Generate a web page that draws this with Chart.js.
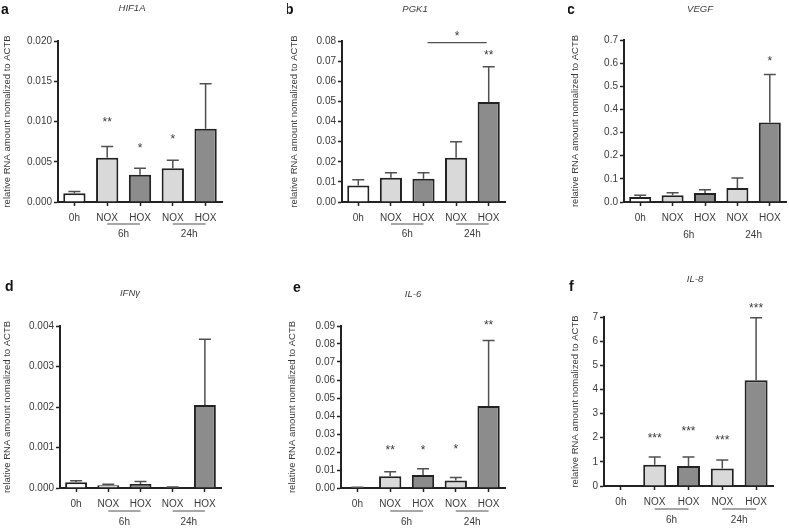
<!DOCTYPE html>
<html>
<head>
<meta charset="utf-8">
<script src="https://cdn.jsdelivr.net/npm/chart.js@4.4.0/dist/chart.umd.min.js"></script>
<style>
  html, body { margin: 0; padding: 0; background: #ffffff; }
  body { width: 789px; height: 528px; position: relative; overflow: hidden; }
  canvas { position: absolute; }
</style>
</head>
<body>
<canvas id="hif1a"></canvas>
<canvas id="pgk1"></canvas>
<canvas id="vegf"></canvas>
<canvas id="ifng"></canvas>
<canvas id="il6"></canvas>
<canvas id="il8"></canvas>
<script>
// categories shared by every panel
const categories = ['0h', 'NOX', 'HOX', 'NOX', 'HOX'];
const groupLabels = ['6h', '24h'];
const yTitle = 'relative RNA amount nomalized to ACTB';

// a - HIF1A
const hif1aMean = [0.0011, 0.0055, 0.0034, 0.0042, 0.0091];
const hif1aSem = [0.0002, 0.0014, 0.0008, 0.0010, 0.0056];
const hif1aStars = ['', '**', '*', '*', ''];
const hif1aStarAt = [null, 0.0102, 0.0070, 0.0081, null];
const hif1aTicks = [0, 0.005, 0.010, 0.015, 0.020];

// b - PGK1
const pgk1Mean = [0.0082, 0.0120, 0.0115, 0.0220, 0.0497];
const pgk1Sem = [0.0028, 0.0025, 0.0030, 0.0080, 0.0175];
const pgk1Stars = ['', '', '', '', '**'];
const pgk1StarAt = [null, null, null, null, 0.0742];
const pgk1Ticks = [0, 0.01, 0.02, 0.03, 0.04, 0.05, 0.06, 0.07, 0.08];

// c - VEGF
const vegfMean = [0.022, 0.029, 0.039, 0.060, 0.343];
const vegfSem = [0.007, 0.011, 0.014, 0.044, 0.208];
const vegfStars = ['', '', '', '', '*'];
const vegfStarAt = [null, null, null, null, 0.62];
const vegfTicks = [0, 0.1, 0.2, 0.3, 0.4, 0.5, 0.6, 0.7];

// d - IFN gamma
const ifngMean = [0.00014, 0.00007, 0.00010, 0.00002, 0.00205];
const ifngSem = [0.00004, 0.00002, 0.00006, 0.000005, 0.00162];
const ifngStars = ['', '', '', '', ''];
const ifngStarAt = [null, null, null, null, null];
const ifngTicks = [0, 0.001, 0.002, 0.003, 0.004];

// e - IL-6
const il6Mean = [0.0003, 0.0065, 0.0072, 0.0041, 0.0455];
const il6Sem = [0.0001, 0.0025, 0.0035, 0.0018, 0.0364];
const il6Stars = ['', '**', '*', '*', '**'];
const il6StarAt = [null, 0.0220, 0.0225, 0.0230, 0.0918];
const il6Ticks = [0, 0.01, 0.02, 0.03, 0.04, 0.05, 0.06, 0.07, 0.08, 0.09];

// f - IL-8
const il8Mean = [0, 0.88, 0.83, 0.73, 4.38];
const il8Sem = [0, 0.32, 0.37, 0.35, 2.59];
const il8Stars = ['', '***', '***', '***', '***'];
const il8StarAt = [null, 2.07, 2.37, 2.00, 7.45];
const il8Ticks = [0, 1, 2, 3, 4, 5, 6, 7];

const INK = '#222222';
const TEXT = '#3a3a3a';
const FONT = "'Liberation Sans', Arial, sans-serif";
const barFills = ['#ffffff', '#d9d9d9', '#8c8c8c', '#d9d9d9', '#8c8c8c'];
const X_AXIS_H = 22;

// draws letter, gene name, error bars, stars, brackets, time groups
function decorations(p) {
  return {
    id: 'decorations',
    afterDatasetsDraw(chart) {
      const ctx = chart.ctx;
      const xs = chart.scales.x;
      const ys = chart.scales.y;
      const bars = chart.getDatasetMeta(0).data;
      ctx.save();

      ctx.strokeStyle = '#505050';
      ctx.lineWidth = 1.5;
      bars.forEach((bar, i) => {
        if (!(p.sem[i] > 0)) return;
        const top = ys.getPixelForValue(p.mean[i] + p.sem[i]);
        ctx.beginPath();
        ctx.moveTo(bar.x, bar.y);
        ctx.lineTo(bar.x, top);
        ctx.moveTo(bar.x - 6, top);
        ctx.lineTo(bar.x + 6, top);
        ctx.stroke();
      });

      ctx.fillStyle = TEXT;
      ctx.textAlign = 'center';
      ctx.textBaseline = 'alphabetic';
      ctx.font = '12px ' + FONT;
      bars.forEach((bar, i) => {
        if (!p.stars[i]) return;
        ctx.fillText(p.stars[i], bar.x, ys.getPixelForValue(p.starAt[i]) + 6);
      });

      if (p.bracket) {
        const yb = ys.getPixelForValue(p.bracket.at);
        const x1 = xs.getPixelForValue(p.bracket.from) + 4;
        const x2 = xs.getPixelForValue(p.bracket.to) - 2;
        ctx.strokeStyle = '#505050';
        ctx.lineWidth = 1.2;
        ctx.beginPath();
        ctx.moveTo(x1, yb);
        ctx.lineTo(x2, yb);
        ctx.stroke();
        ctx.fillText(p.bracket.label, (x1 + x2) / 2, ys.getPixelForValue(p.bracket.labelAt) + 6);
      }

      const bottom = chart.chartArea.bottom;
      ctx.font = '10px ' + FONT;
      ctx.textBaseline = 'middle';
      [[1, 2], [3, 4]].forEach((pair, g) => {
        const x1 = xs.getPixelForValue(pair[0]);
        const x2 = xs.getPixelForValue(pair[1]);
        if (p.groupLines) {
          ctx.strokeStyle = '#505050';
          ctx.lineWidth = 1.2;
          ctx.beginPath();
          ctx.moveTo(x1, bottom + p.lineGap);
          ctx.lineTo(x2, bottom + p.lineGap);
          ctx.stroke();
        }
        ctx.fillText(groupLabels[g], (x1 + x2) / 2, bottom + p.labelGap);
      });

      ctx.textBaseline = 'alphabetic';
      ctx.textAlign = 'left';
      ctx.fillStyle = '#111111';
      ctx.font = 'bold 14px ' + FONT;
      ctx.fillText(p.letter, p.letterX - p.x0, p.letterY - p.y0);

      ctx.textAlign = 'center';
      ctx.fillStyle = TEXT;
      ctx.font = 'italic 9.5px ' + FONT;
      ctx.fillText(p.gene, p.geneX - p.x0, p.geneY - p.y0);
      ctx.restore();
    }
  };
}

function makePanel(p) {
  const canvas = document.getElementById(p.id);
  canvas.width = p.w;
  canvas.height = p.h;
  canvas.style.left = p.x0 + 'px';
  canvas.style.top = p.y0 + 'px';
  canvas.style.width = p.w + 'px';
  canvas.style.height = p.h + 'px';

  return new Chart(canvas, {
    type: 'bar',
    data: {
      labels: categories,
      datasets: [{
        data: p.mean,
        backgroundColor: barFills,
        borderColor: INK,
        borderWidth: 2,
        barPercentage: 0.68,
        categoryPercentage: 1.0,
      }],
    },
    options: {
      responsive: false,
      animation: false,
      devicePixelRatio: 1,
      layout: {
        padding: {
          left: 0,
          top: p.area.t - p.y0,
          right: p.x0 + p.w - p.area.r,
          bottom: p.h - (p.area.b - p.y0) - X_AXIS_H,
        },
      },
      plugins: {
        legend: { display: false },
        tooltip: { enabled: false },
      },
      scales: {
        x: {
          grid: { display: true, offset: false, drawOnChartArea: false, tickLength: 4, tickColor: INK, tickWidth: 1.5 },
          border: { display: true, color: INK, width: 2 },
          ticks: { color: TEXT, font: { family: FONT, size: 10 }, padding: 6, maxRotation: 0, autoSkip: false },
          afterFit: s => { s.height = X_AXIS_H; },
        },
        y: {
          min: 0,
          max: p.ticks[p.ticks.length - 1],
          afterBuildTicks: s => { s.ticks = p.ticks.map(v => ({ value: v })); },
          grid: { display: true, drawOnChartArea: false, tickLength: 4, tickColor: INK, tickWidth: 1.5 },
          border: { display: true, color: INK, width: 2 },
          ticks: {
            color: TEXT,
            font: { family: FONT, size: 10 },
            padding: 2,
            callback: v => v.toFixed(p.decimals),
          },
          title: {
            display: true,
            text: yTitle,
            color: TEXT,
            font: { family: FONT, size: 9.5 },
            padding: { top: 2, bottom: 0 },
          },
          afterFit: s => { s.width = p.area.l - p.x0; },
        },
      },
    },
    plugins: [decorations(p)],
  });
}

makePanel({
  id: 'hif1a', letter: 'a', gene: 'HIF1A',
  mean: hif1aMean, sem: hif1aSem, stars: hif1aStars, starAt: hif1aStarAt, ticks: hif1aTicks, decimals: 3,
  x0: 0, y0: 0, w: 263, h: 264, area: { l: 58, t: 41, r: 222, b: 202 },
  letterX: 1, letterY: 14, geneX: 132, geneY: 11,
  groupLines: true, lineGap: 22, labelGap: 32,
});

makePanel({
  id: 'pgk1', letter: 'b', gene: 'PGK1',
  mean: pgk1Mean, sem: pgk1Sem, stars: pgk1Stars, starAt: pgk1StarAt, ticks: pgk1Ticks, decimals: 2,
  bracket: { from: 2, to: 4, at: 0.0792, label: '*', labelAt: 0.0836 },
  x0: 287, y0: 0, w: 245, h: 264, area: { l: 342, t: 41, r: 505, b: 202 },
  letterX: 285, letterY: 14, geneX: 415, geneY: 12,
  groupLines: true, lineGap: 22, labelGap: 32,
});

makePanel({
  id: 'vegf', letter: 'c', gene: 'VEGF',
  mean: vegfMean, sem: vegfSem, stars: vegfStars, starAt: vegfStarAt, ticks: vegfTicks, decimals: 1,
  x0: 568, y0: 0, w: 221, h: 264, area: { l: 624, t: 40, r: 786, b: 202 },
  letterX: 567, letterY: 14, geneX: 700, geneY: 12,
  groupLines: false, lineGap: 22, labelGap: 33,
});

makePanel({
  id: 'ifng', letter: 'd', gene: 'IFNγ',
  mean: ifngMean, sem: ifngSem, stars: ifngStars, starAt: ifngStarAt, ticks: ifngTicks, decimals: 3,
  x0: 0, y0: 264, w: 263, h: 264, area: { l: 60, t: 326, r: 221, b: 488 },
  letterX: 5, letterY: 291, geneX: 130, geneY: 296,
  groupLines: true, lineGap: 23, labelGap: 34,
});

makePanel({
  id: 'il6', letter: 'e', gene: 'IL-6',
  mean: il6Mean, sem: il6Sem, stars: il6Stars, starAt: il6StarAt, ticks: il6Ticks, decimals: 2,
  x0: 285, y0: 264, w: 245, h: 264, area: { l: 341, t: 326, r: 505, b: 488 },
  letterX: 293, letterY: 292, geneX: 413, geneY: 297,
  groupLines: true, lineGap: 23, labelGap: 34,
});

makePanel({
  id: 'il8', letter: 'f', gene: 'IL-8',
  mean: il8Mean, sem: il8Sem, stars: il8Stars, starAt: il8StarAt, ticks: il8Ticks, decimals: 0,
  x0: 568, y0: 264, w: 221, h: 264, area: { l: 604, t: 317, r: 773, b: 486 },
  letterX: 569, letterY: 291, geneX: 695, geneY: 282,
  groupLines: true, lineGap: 23, labelGap: 34,
});
</script>
</body>
</html>
